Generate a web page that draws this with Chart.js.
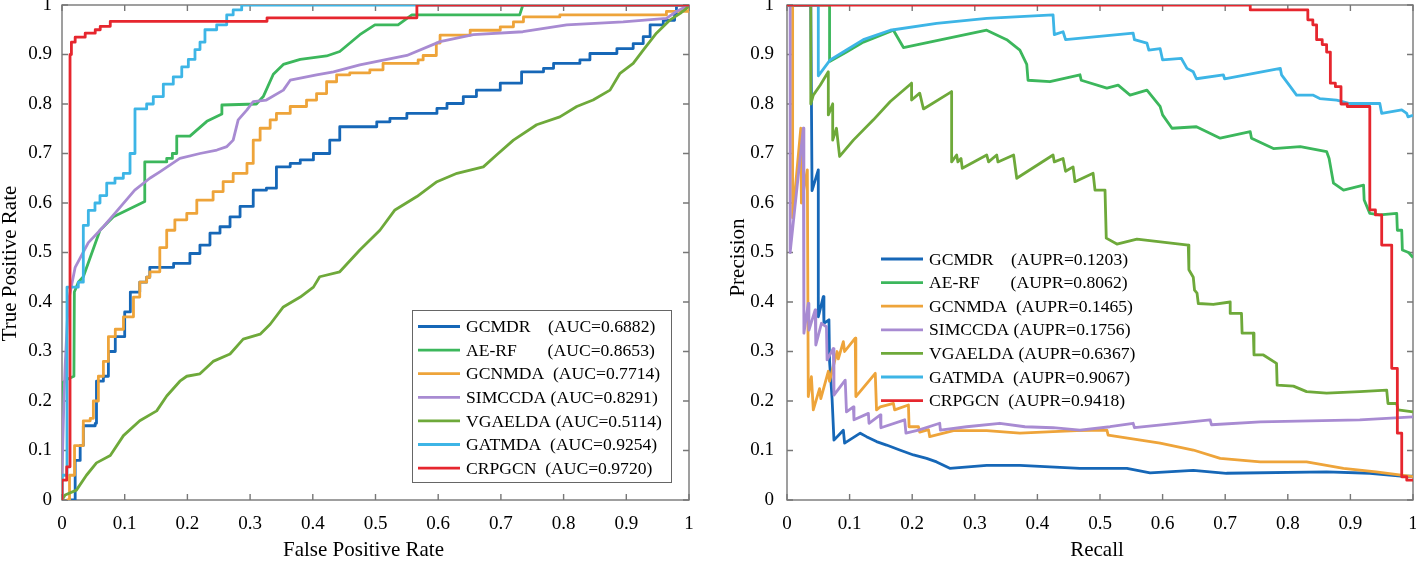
<!DOCTYPE html>
<html>
<head>
<meta charset="utf-8">
<title>ROC / PR comparison</title>
<script src="https://cdn.jsdelivr.net/npm/chart.js"></script>
<style>
  html, body { margin: 0; padding: 0; background: #fff; }
  body { width: 1416px; height: 561px; position: relative; overflow: hidden; }
  canvas { position: absolute; top: 0; }
  #roc { left: 0; }
  #pr { left: 708px; }
</style>
</head>
<body>
<canvas id="roc" width="700" height="561"></canvas>
<canvas id="pr" width="708" height="561"></canvas>
<script>
// --- data ---
const methods = ['GCMDR', 'AE-RF', 'GCNMDA', 'SIMCCDA', 'VGAELDA', 'GATMDA', 'CRPGCN'];
const aucValues = ['0.6882', '0.8653', '0.7714', '0.8291', '0.5114', '0.9254', '0.9720'];
const auprValues = ['0.1203', '0.8062', '0.1465', '0.1756', '0.6367', '0.9067', '0.9418'];
const nameGaps = [4, 7, 2, 1, 1, 2, 2];
const axisTicks = [0, 0.1, 0.2, 0.3, 0.4, 0.5, 0.6, 0.7, 0.8, 0.9, 1];
const axisTickLabels = ['0', '0.1', '0.2', '0.3', '0.4', '0.5', '0.6', '0.7', '0.8', '0.9', '1'];

// ROC curves [fpr, tpr]
const rocGCMDR = [[0.01,0],[0.021,0.08],[0.029,0.11],[0.034,0.15],[0.053,0.155],[0.055,0.24],[0.066,0.25],[0.074,0.3],[0.085,0.33],[0.1,0.38],[0.109,0.42],[0.124,0.44],[0.135,0.45],[0.14,0.47],[0.178,0.478],[0.204,0.498],[0.22,0.515],[0.236,0.539],[0.252,0.552],[0.268,0.572],[0.284,0.593],[0.305,0.626],[0.326,0.63],[0.342,0.673],[0.364,0.68],[0.38,0.687],[0.401,0.70],[0.427,0.727],[0.443,0.754],[0.502,0.764],[0.523,0.771],[0.55,0.781],[0.598,0.791],[0.614,0.801],[0.64,0.815],[0.661,0.828],[0.699,0.842],[0.733,0.865],[0.768,0.872],[0.784,0.882],[0.826,0.889],[0.842,0.902],[0.885,0.912],[0.911,0.922],[0.927,0.936],[0.938,0.96],[0.959,0.969],[0.977,0.983],[0.98,1],[1,1]];
const rocAERF = [[0,0],[0,0.236],[0.01,0.245],[0.019,0.25],[0.0197,0.42],[0.026,0.44],[0.034,0.451],[0.0606,0.545],[0.082,0.572],[0.132,0.603],[0.132,0.683],[0.167,0.683],[0.167,0.69],[0.176,0.69],[0.176,0.70],[0.183,0.70],[0.183,0.735],[0.204,0.735],[0.231,0.765],[0.255,0.78],[0.255,0.798],[0.31,0.80],[0.321,0.815],[0.337,0.86],[0.353,0.88],[0.38,0.89],[0.422,0.897],[0.443,0.906],[0.475,0.94],[0.499,0.96],[0.536,0.96],[0.558,0.98],[0.73,0.98],[0.735,1],[1,1]];
const rocGCNMDA = [[0.0075,0],[0.012,0.05],[0.02,0.11],[0.034,0.16],[0.045,0.165],[0.05,0.2],[0.058,0.25],[0.066,0.28],[0.074,0.33],[0.085,0.345],[0.098,0.37],[0.114,0.41],[0.124,0.44],[0.135,0.45],[0.14,0.461],[0.156,0.51],[0.167,0.545],[0.18,0.566],[0.199,0.579],[0.215,0.606],[0.241,0.623],[0.257,0.643],[0.273,0.66],[0.295,0.68],[0.305,0.727],[0.316,0.751],[0.332,0.768],[0.342,0.781],[0.364,0.795],[0.39,0.808],[0.406,0.821],[0.422,0.845],[0.438,0.859],[0.459,0.863],[0.491,0.869],[0.512,0.882],[0.568,0.889],[0.576,0.898],[0.597,0.923],[0.603,0.939],[0.651,0.949],[0.699,0.956],[0.72,0.966],[0.736,0.976],[0.794,0.98],[0.964,0.987],[1,1]];
const rocSIMCCDA = [[0,0],[0,0.05],[0.003,0.2],[0.005,0.27],[0.01,0.40],[0.021,0.47],[0.042,0.52],[0.066,0.552],[0.085,0.58],[0.116,0.626],[0.14,0.65],[0.156,0.663],[0.188,0.69],[0.22,0.70],[0.247,0.707],[0.263,0.714],[0.273,0.727],[0.281,0.768],[0.295,0.788],[0.305,0.805],[0.326,0.808],[0.353,0.828],[0.364,0.848],[0.406,0.859],[0.433,0.865],[0.454,0.872],[0.475,0.879],[0.55,0.898],[0.603,0.926],[0.656,0.94],[0.735,0.946],[0.805,0.96],[0.895,0.966],[0.964,0.973],[0.98,0.987],[1,1]];
const rocVGAELDA = [[0,0],[0.005,0.01],[0.023,0.02],[0.039,0.05],[0.055,0.075],[0.077,0.09],[0.098,0.13],[0.124,0.16],[0.151,0.18],[0.167,0.21],[0.188,0.24],[0.199,0.25],[0.22,0.255],[0.241,0.28],[0.268,0.295],[0.289,0.325],[0.316,0.335],[0.332,0.355],[0.353,0.39],[0.38,0.41],[0.401,0.43],[0.411,0.451],[0.443,0.461],[0.475,0.505],[0.507,0.545],[0.531,0.586],[0.566,0.613],[0.598,0.643],[0.63,0.66],[0.672,0.673],[0.693,0.697],[0.72,0.727],[0.757,0.758],[0.794,0.774],[0.821,0.795],[0.847,0.808],[0.874,0.828],[0.89,0.862],[0.911,0.882],[0.927,0.909],[0.948,0.943],[0.97,0.97],[0.986,0.983],[0.996,0.993],[1,1]];
const rocGATMDA = [[0,0],[0,0.05],[0.008,0.43],[0.026,0.44],[0.034,0.555],[0.042,0.585],[0.0526,0.6],[0.0606,0.615],[0.0713,0.64],[0.0845,0.65],[0.0978,0.66],[0.1085,0.70],[0.1164,0.79],[0.135,0.80],[0.1456,0.815],[0.1616,0.84],[0.1775,0.855],[0.191,0.875],[0.2015,0.89],[0.2121,0.91],[0.2201,0.925],[0.228,0.95],[0.2467,0.96],[0.2627,0.98],[0.273,0.99],[0.2866,1],[1,1]];
const rocCRPGCN = [[0,0],[0,0.04],[0.0075,0.067],[0.0128,0.90],[0.015,0.925],[0.021,0.935],[0.037,0.943],[0.053,0.95],[0.061,0.957],[0.077,0.967],[0.327,0.974],[0.566,1],[1,1]];

// PR curves [recall, precision]
const prGCMDR = [[0,1],[0.038,1],[0.04,0.625],[0.05,0.667],[0.05,0.37],[0.058,0.411],[0.059,0.357],[0.067,0.364],[0.068,0.28],[0.072,0.205],[0.075,0.121],[0.09,0.141],[0.092,0.115],[0.117,0.135],[0.127,0.128],[0.143,0.118],[0.159,0.111],[0.18,0.101],[0.202,0.091],[0.223,0.084],[0.239,0.077],[0.26,0.064],[0.319,0.07],[0.372,0.07],[0.42,0.067],[0.468,0.064],[0.543,0.064],[0.58,0.055],[0.649,0.06],[0.702,0.054],[0.862,0.057],[0.931,0.054],[0.985,0.048],[1,0.048]];
const prAERF = [[0,1],[0.068,1],[0.068,0.886],[0.095,0.905],[0.122,0.925],[0.17,0.949],[0.186,0.914],[0.319,0.949],[0.351,0.93],[0.372,0.909],[0.383,0.88],[0.385,0.848],[0.42,0.845],[0.468,0.859],[0.47,0.848],[0.511,0.832],[0.529,0.838],[0.548,0.818],[0.575,0.828],[0.596,0.795],[0.6,0.778],[0.615,0.751],[0.654,0.754],[0.692,0.731],[0.74,0.744],[0.742,0.731],[0.777,0.71],[0.82,0.714],[0.862,0.704],[0.866,0.69],[0.873,0.64],[0.889,0.626],[0.921,0.636],[0.922,0.606],[0.931,0.579],[0.947,0.576],[0.974,0.579],[0.975,0.545],[0.982,0.545],[0.983,0.505],[0.993,0.5],[1,0.49]];
const prGCNMDA = [[0,1],[0.009,1],[0.009,0.57],[0.022,0.751],[0.023,0.60],[0.0325,0.667],[0.034,0.209],[0.039,0.249],[0.042,0.182],[0.052,0.225],[0.054,0.205],[0.066,0.26],[0.068,0.24],[0.08,0.30],[0.082,0.285],[0.09,0.32],[0.092,0.30],[0.109,0.327],[0.11,0.209],[0.141,0.256],[0.143,0.182],[0.149,0.188],[0.17,0.195],[0.172,0.182],[0.194,0.192],[0.195,0.148],[0.21,0.148],[0.212,0.137],[0.226,0.142],[0.228,0.128],[0.266,0.14],[0.319,0.14],[0.372,0.135],[0.425,0.138],[0.463,0.14],[0.511,0.141],[0.513,0.131],[0.596,0.115],[0.649,0.101],[0.692,0.084],[0.756,0.077],[0.83,0.077],[0.889,0.064],[0.941,0.057],[1,0.047]];
const prSIMCCDA = [[0,1],[0.005,1],[0.005,0.5],[0.026,0.751],[0.027,0.337],[0.034,0.397],[0.035,0.343],[0.045,0.384],[0.046,0.313],[0.055,0.357],[0.063,0.35],[0.064,0.283],[0.074,0.306],[0.075,0.212],[0.093,0.242],[0.095,0.178],[0.106,0.188],[0.107,0.162],[0.13,0.175],[0.131,0.155],[0.149,0.172],[0.15,0.146],[0.188,0.162],[0.19,0.135],[0.21,0.141],[0.244,0.155],[0.245,0.141],[0.287,0.148],[0.34,0.155],[0.38,0.148],[0.425,0.146],[0.468,0.141],[0.516,0.148],[0.553,0.155],[0.555,0.146],[0.676,0.162],[0.678,0.152],[0.756,0.158],[0.915,0.162],[1,0.168]];
const prVGAELDA = [[0,1],[0.038,1],[0.038,0.80],[0.042,0.818],[0.053,0.838],[0.066,0.865],[0.066,0.778],[0.073,0.80],[0.073,0.727],[0.079,0.751],[0.084,0.694],[0.106,0.727],[0.138,0.768],[0.165,0.805],[0.199,0.842],[0.199,0.808],[0.212,0.822],[0.218,0.79],[0.263,0.825],[0.263,0.683],[0.271,0.697],[0.273,0.683],[0.278,0.69],[0.28,0.67],[0.319,0.697],[0.322,0.683],[0.335,0.697],[0.337,0.683],[0.362,0.697],[0.367,0.65],[0.425,0.697],[0.427,0.683],[0.441,0.69],[0.445,0.664],[0.457,0.673],[0.46,0.643],[0.489,0.66],[0.492,0.626],[0.508,0.626],[0.51,0.529],[0.527,0.517],[0.559,0.527],[0.641,0.515],[0.642,0.465],[0.649,0.45],[0.651,0.424],[0.655,0.418],[0.657,0.397],[0.681,0.395],[0.708,0.40],[0.708,0.377],[0.726,0.377],[0.727,0.337],[0.745,0.337],[0.746,0.293],[0.761,0.293],[0.782,0.276],[0.783,0.232],[0.809,0.23],[0.83,0.219],[0.862,0.216],[0.915,0.219],[0.958,0.222],[0.96,0.195],[0.974,0.195],[0.976,0.182],[1,0.178]];
const prGATMDA = [[0,1],[0.05,1],[0.05,0.857],[0.069,0.889],[0.095,0.909],[0.122,0.93],[0.165,0.949],[0.239,0.963],[0.319,0.973],[0.425,0.98],[0.427,0.94],[0.441,0.946],[0.445,0.93],[0.553,0.943],[0.555,0.93],[0.575,0.923],[0.578,0.909],[0.596,0.912],[0.6,0.889],[0.63,0.892],[0.639,0.872],[0.649,0.865],[0.654,0.851],[0.697,0.859],[0.699,0.851],[0.788,0.872],[0.79,0.859],[0.804,0.835],[0.814,0.818],[0.84,0.818],[0.851,0.811],[0.878,0.808],[0.899,0.801],[0.947,0.801],[0.95,0.781],[0.982,0.788],[0.99,0.781],[0.992,0.774],[1,0.777]];
const prCRPGCN = [[0,1],[0.74,1],[0.832,0.99],[0.84,0.97],[0.846,0.96],[0.855,0.93],[0.862,0.92],[0.868,0.905],[0.876,0.842],[0.885,0.835],[0.895,0.80],[0.931,0.795],[0.94,0.586],[0.95,0.576],[0.966,0.515],[0.975,0.266],[0.982,0.135],[0.99,0.047],[1,0.04]];

const colors = ['#1667b7', '#3cb75c', '#eea43a', '#a88bd2', '#6ea93a', '#3db5e6', '#e6262e'];
const serif = '"Liberation Serif", "Times New Roman", serif';

// frame with inward ticks on all four sides (drawn under the curves)
const framePlugin = {
    id: 'frame',
    beforeDatasetsDraw(chart) {
        const { ctx, chartArea: a, scales } = chart;
        ctx.save();
        ctx.strokeStyle = '#777';
        ctx.lineWidth = 1.4;
        ctx.strokeRect(a.left, a.top, a.right - a.left, a.bottom - a.top);
        ctx.beginPath();
        scales.x.ticks.forEach(t => {
            const px = scales.x.getPixelForValue(t.value);
            ctx.moveTo(px, a.bottom); ctx.lineTo(px, a.bottom - 6);
            ctx.moveTo(px, a.top); ctx.lineTo(px, a.top + 6);
        });
        scales.y.ticks.forEach(t => {
            const py = scales.y.getPixelForValue(t.value);
            ctx.moveTo(a.left, py); ctx.lineTo(a.left + 6, py);
            ctx.moveTo(a.right, py); ctx.lineTo(a.right - 6, py);
        });
        ctx.stroke();
        ctx.restore();
    }
};

// axis titles, nudged the way the original figure has them
function makeTitles(cfg) {
    return {
        id: 'axisTitles',
        afterDraw(chart) {
            const { ctx, chartArea: a } = chart;
            ctx.save();
            ctx.font = '21px ' + serif;
            ctx.fillStyle = '#000';
            ctx.textAlign = 'center';
            ctx.textBaseline = 'middle';
            ctx.fillText(cfg.x, (a.left + a.right) / 2 + cfg.xShift, a.bottom + 50.5);
            ctx.translate(cfg.yPos, (a.top + a.bottom) / 2 + cfg.yShift);
            ctx.rotate(-Math.PI / 2);
            ctx.fillText(cfg.y, 0, 0);
            ctx.restore();
        }
    };
}

function makeLegend(cfg) {
    return {
        id: 'curveLegend',
        afterDatasetsDraw(chart) {
            const { ctx, chartArea: a } = chart;
            const x0 = a.left + cfg.dx, y0 = a.top + cfg.dy;
            ctx.save();
            if (cfg.box) {
                ctx.fillStyle = '#fff';
                ctx.fillRect(x0, y0, cfg.w, cfg.h);
                ctx.strokeStyle = '#666';
                ctx.lineWidth = 1;
                ctx.strokeRect(x0 + 0.5, y0 + 0.5, cfg.w, cfg.h);
            }
            ctx.font = '17.6px ' + serif;
            ctx.textBaseline = 'middle';
            chart.data.datasets.forEach((ds, i) => {
                const y = y0 + cfg.first + i * cfg.step;
                ctx.strokeStyle = ds.borderColor;
                ctx.lineWidth = 2.8;
                ctx.beginPath();
                ctx.moveTo(x0 + 6, y - 1);
                ctx.lineTo(x0 + 48, y - 1);
                ctx.stroke();
                ctx.fillStyle = '#000';
                ctx.fillText(ds.label, x0 + 54, y);
            });
            ctx.restore();
        }
    };
}

function makeDatasets(series, labels, steps) {
    return series.map((pts, i) => ({
        label: labels[i],
        data: pts.map(p => ({ x: p[0], y: p[1] })),
        borderColor: colors[i],
        backgroundColor: colors[i],
        borderWidth: 2.8,
        borderJoinStyle: 'round',
        pointRadius: 0,
        fill: false,
        tension: 0,
        stepped: steps[i],
        order: series.length - i
    }));
}

function xScale() {
    return {
        type: 'linear', min: 0, max: 1,
        grid: { display: false, drawTicks: false },
        border: { display: false },
        afterBuildTicks: s => { s.ticks = axisTicks.map(v => ({ value: v })); },
        afterFit: s => { s.height = 61; s.paddingLeft = 0; s.paddingRight = 0; },
        ticks: {
            padding: 13, color: '#000', autoSkip: false, maxRotation: 0,
            font: { family: serif, size: 19 },
            callback: (v, i) => axisTickLabels[i]
        },
        title: { display: false }
    };
}

function yScale(width, tickPad) {
    return {
        type: 'linear', min: 0, max: 1,
        grid: { display: false, drawTicks: false },
        border: { display: false },
        afterBuildTicks: s => { s.ticks = axisTicks.map(v => ({ value: v })); },
        afterFit: s => { s.width = width; s.paddingTop = 0; s.paddingBottom = 0; },
        ticks: {
            padding: tickPad, color: '#000', autoSkip: false,
            font: { family: serif, size: 19 },
            callback: (v, i) => axisTickLabels[i]
        },
        title: { display: false }
    };
}

const rocLabels = methods.map((m, i) => m + ' '.repeat(nameGaps[i]) + '(AUC=' + aucValues[i] + ')');
const prLabels = methods.map((m, i) => m + ' '.repeat(nameGaps[i]) + '(AUPR=' + auprValues[i] + ')');

new Chart(document.getElementById('roc'), {
    type: 'line',
    data: {
        datasets: makeDatasets(
            [rocGCMDR, rocAERF, rocGCNMDA, rocSIMCCDA, rocVGAELDA, rocGATMDA, rocCRPGCN],
            rocLabels,
            [true, false, true, false, false, true, true])
    },
    options: {
        responsive: false,
        animation: false,
        devicePixelRatio: 1,
        layout: { padding: { top: 5, right: 11, left: 0, bottom: 0 } },
        plugins: { legend: { display: false }, tooltip: { enabled: false } },
        scales: { x: xScale(), y: yScale(62, 10) }
    },
    plugins: [
        framePlugin,
        makeLegend({ box: true, dx: 350, dy: 305, w: 259, h: 172, first: 17.5, step: 23.6 }),
        makeTitles({ x: 'False Positive Rate', y: 'True Positive Rate', xShift: -12, yPos: 10.5, yShift: 11 })
    ]
});

new Chart(document.getElementById('pr'), {
    type: 'line',
    data: {
        datasets: makeDatasets(
            [prGCMDR, prAERF, prGCNMDA, prSIMCCDA, prVGAELDA, prGATMDA, prCRPGCN],
            prLabels,
            [false, false, false, false, false, false, 'after'])
    },
    options: {
        responsive: false,
        animation: false,
        devicePixelRatio: 1,
        layout: { padding: { top: 5, right: 3, left: 0, bottom: 0 } },
        plugins: { legend: { display: false }, tooltip: { enabled: false } },
        scales: { x: xScale(), y: yScale(79, 13) }
    },
    plugins: [
        framePlugin,
        makeLegend({ box: false, dx: 88, dy: 237.5, w: 0, h: 0, first: 17.5, step: 23.6 }),
        makeTitles({ x: 'Recall', y: 'Precision', xShift: -3, yPos: 30, yShift: 5 })
    ]
});
</script>
</body>
</html>
